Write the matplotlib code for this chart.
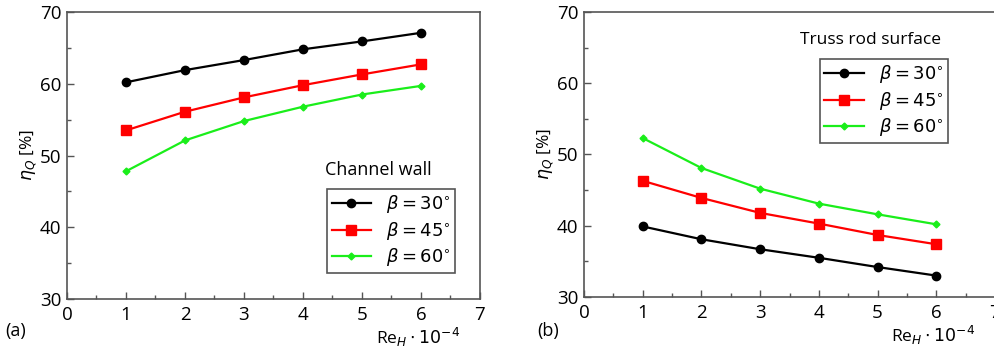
import matplotlib.pyplot as plt
from matplotlib.ticker import MultipleLocator

# Re_H * 10^-4
re_h = [1, 2, 3, 4, 5, 6]

# (a) channel wall, eta_Q [%]
wall_30 = [60.2, 61.9, 63.3, 64.8, 65.9, 67.1]
wall_45 = [53.5, 56.1, 58.1, 59.8, 61.3, 62.7]
wall_60 = [47.8, 52.1, 54.8, 56.8, 58.5, 59.7]

# (b) truss rod surface, eta_Q [%]
rod_30 = [39.9, 38.1, 36.7, 35.5, 34.2, 33.0]
rod_45 = [46.3, 43.9, 41.8, 40.3, 38.7, 37.4]
rod_60 = [52.3, 48.1, 45.2, 43.1, 41.6, 40.2]

labels = [r"$\beta = 30^{\circ}$", r"$\beta = 45^{\circ}$", r"$\beta = 60^{\circ}$"]

plt.rcParams['font.family'] = ['Open Sans', 'DejaVu Sans']
plt.rcParams['mathtext.fontset'] = 'dejavusans'

GREEN = '#1aee1a'
SPINE = '#555555'

fig = plt.figure(figsize=(9.95, 3.48), dpi=100)
ax1 = fig.add_axes([0.0673, 0.1408, 0.415, 0.8247])
ax2 = fig.add_axes([0.587, 0.1466, 0.413, 0.819])


def draw(ax, s30, s45, s60):
    ax.plot(re_h, s30, color='black', marker='o', markersize=6, lw=1.6, label=labels[0])
    ax.plot(re_h, s45, color='red', marker='s', markersize=6.5, lw=1.6, label=labels[1])
    ax.plot(re_h, s60, color=GREEN, marker='D', markersize=3.5, lw=1.6, label=labels[2])
    ax.set_xlim(0, 7)
    ax.set_ylim(30, 70)
    ax.xaxis.set_major_locator(MultipleLocator(1))
    ax.xaxis.set_minor_locator(MultipleLocator(0.5))
    ax.yaxis.set_major_locator(MultipleLocator(10))
    ax.yaxis.set_minor_locator(MultipleLocator(5))
    ax.tick_params(which='both', direction='in', color=SPINE, labelsize=13.5)
    ax.tick_params(which='major', length=5, width=1)
    ax.tick_params(which='minor', length=3, width=1)
    ax.tick_params(axis='x', pad=5)
    ax.tick_params(axis='y', pad=4)
    for sp in ax.spines.values():
        sp.set_color(SPINE)
        sp.set_linewidth(1.2)
    ax.set_ylabel(r"$\eta_Q$ [%]", fontsize=12.5, labelpad=1)
    ax.set_xlabel(r"Re$_H \cdot 10^{-4}$", fontsize=12.5, va='center')
    ax.xaxis.set_label_coords(0.85, -0.135)


draw(ax1, wall_30, wall_45, wall_60)
draw(ax2, rod_30, rod_45, rod_60)

leg1 = ax1.legend(loc='upper left', bbox_to_anchor=(0.608, 0.415), fontsize=13,
                  fancybox=False, edgecolor='#555555', framealpha=1,
                  handlelength=2.2, borderpad=0.25, labelspacing=0.25,
                  handletextpad=0.8)
leg1.get_frame().set_linewidth(1.2)
ax1.text(0.753, 0.45, "Channel wall", transform=ax1.transAxes, ha='center',
         va='center', fontsize=13)

leg2 = ax2.legend(loc='upper left', bbox_to_anchor=(0.552, 0.867), fontsize=13,
                  fancybox=False, edgecolor='#555555', framealpha=1,
                  handlelength=2.2, borderpad=0.25, labelspacing=0.25,
                  handletextpad=0.8)
leg2.get_frame().set_linewidth(1.2)
ax2.text(0.697, 0.902, "Truss rod surface", transform=ax2.transAxes, ha='center',
         va='center', fontsize=12.5)

fig.text(0.005, 0.035, "(a)", fontsize=13)
fig.text(0.54, 0.035, "(b)", fontsize=13)

fig.savefig("out.png", dpi=100)
